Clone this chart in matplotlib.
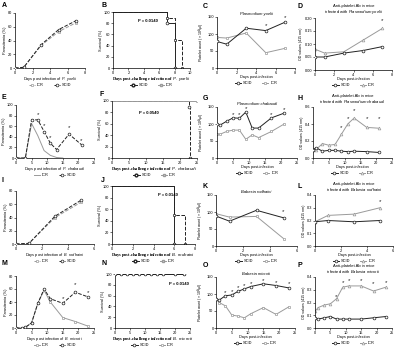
import numpy as np
import matplotlib
matplotlib.use("Agg")
import matplotlib.pyplot as plt

plt.rcParams.update({'font.family': ['Liberation Sans', 'DejaVu Sans'],
                     'font.size': 3, 'axes.linewidth': 0.5,
                     'mathtext.fontset': 'custom',
                     'mathtext.rm': 'Liberation Sans',
                     'mathtext.it': 'Liberation Sans:italic',
                     'mathtext.bf': 'Liberation Sans:bold',
                     'xtick.major.width': 0.4, 'ytick.major.width': 0.4,
                     'xtick.major.size': 1.2, 'ytick.major.size': 1.2,
                     'xtick.major.pad': 0.6, 'ytick.major.pad': 0.6})

BLK = '#222222'
GRY = '#9a9a9a'

# ---------------- data ----------------
# A  P. yoelii parasitemia
a_days = [0, 1, 3, 5, 7]
a_icr = [0, 1, 33, 53, 66]
a_scid = [0, 1, 34, 56, 69]
# B  survival P. yoelii
b_scid_t = [0, 7, 8]
b_scid_s = [100, 80, 0]
b_icr_t = [0, 7, 8, 9]
b_icr_s = [100, 90, 50, 0]
# C  platelets P. yoelii
c_days = [0, 1, 3, 5, 7]
c_scid = [78, 70, 117, 110, 135]
c_icr = [90, 88, 103, 45, 58]
c_star_x = [5, 7]
c_star_y = [126, 147]
# D  anti-platelet Ab P. yoelii
d_days = [0, 1, 3, 5, 7]
d_scid = [0.05, 0.05, 0.065, 0.075, 0.09]
d_icr = [0.08, 0.065, 0.07, 0.115, 0.16]
d_star_x = [7]
d_star_y = [0.19]
# E  P. chabaudi parasitemia
e_icr_days = [0, 3, 5, 7, 9, 11, 13, 15]
e_icr = [0, 0, 65, 42, 14, 5, 1, 0]
e_scid_days = [0, 3, 5, 7, 9, 11, 13, 17, 21]
e_scid = [0, 0, 72, 72, 50, 28, 16, 45, 25]
e_star_x = [7, 9, 11, 17, 21]
e_star_y = [82, 62, 38, 57, 33]
# F  survival P. chabaudi
f_scid_t = [0, 22.5, 23]
f_scid_s = [100, 90, 0]
f_icr_t = [0, 25]
f_icr_s = [100, 100]
# G  platelets P. chabaudi
g_days = [0, 1, 3, 5, 7, 9, 11, 13, 17, 21]
g_scid = [100, 97, 108, 118, 117, 135, 88, 88, 118, 132]
g_icr = [70, 70, 78, 82, 82, 55, 68, 60, 78, 100]
g_star_x = [5, 7, 9, 17, 21]
g_star_y = [128, 128, 145, 128, 142]
# H  anti-platelet Ab P. chabaudi
h_days = [0, 1, 3, 5, 7, 9, 11, 13, 17, 21]
h_scid = [0.10, 0.12, 0.08, 0.09, 0.09, 0.08, 0.075, 0.08, 0.075, 0.065]
h_icr = [0.10, 0.10, 0.17, 0.15, 0.16, 0.28, 0.40, 0.47, 0.36, 0.35]
h_star_x = [9, 11, 13, 17, 21]
h_star_y = [0.36, 0.46, 0.56, 0.46, 0.46]
# I  B. rodhaini parasitemia
i_days = [0, 1, 3, 5]
i_icr = [0, 1, 40, 63]
i_scid = [0, 1, 42, 66]
# J  survival B. rodhaini
j_scid_t = [0, 6]
j_scid_s = [100, 0]
j_icr_t = [0, 6, 7]
j_icr_s = [100, 50, 0]
# K  platelets B. rodhaini
k_days = [0, 1, 3, 5]
k_scid = [88, 73, 105, 83]
k_icr = [95, 85, 87, 22]
k_star_x = [5]
k_star_y = [100]
# L  anti-platelet Ab B. rodhaini
l_days = [0, 1, 3, 5]
l_scid = [0.19, 0.20, 0.19, 0.20]
l_icr = [0.19, 0.24, 0.25, 0.30]
l_star_x = [5]
l_star_y = [0.35]
# M  B. microti parasitemia
m_days = [0, 2, 3, 5, 7, 9, 11, 15, 19, 23]
m_icr = [0, 0, 1, 8, 38, 58, 40, 16, 10, 3]
m_scid = [0, 0, 1, 8, 38, 60, 45, 38, 55, 48]
m_star_x = [15, 19, 23]
m_star_y = [45, 67, 54]
# N  survival B. microti
n_days = [0, 2, 4, 6, 8, 10, 12, 14, 16, 20, 23]
n_scid = [100] * 11
n_icr = [100] * 11
# O  platelets B. microti
o_days = [0, 1, 3, 5, 7, 9, 11, 15, 19, 23]
o_scid = [85, 82, 95, 97, 108, 115, 122, 130, 125, 118]
o_icr = [85, 75, 65, 38, 35, 30, 42, 60, 40, 62]
o_star_x = [3, 5, 7, 9, 11, 15, 19, 23]
o_star_y = [105, 107, 118, 125, 132, 140, 135, 130]
# P  anti-platelet Ab B. microti
p_days = [0, 1, 3, 5, 7, 9, 11, 15, 19, 23]
p_scid = [0.08, 0.07, 0.08, 0.09, 0.07, 0.07, 0.07, 0.07, 0.08, 0.09]
p_icr = [0.13, 0.16, 0.18, 0.19, 0.23, 0.32, 0.33, 0.33, 0.29, 0.32]
p_star_x = [7, 9, 11, 15, 19, 23]
p_star_y = [0.25, 0.36, 0.37, 0.37, 0.35, 0.36]

fig = plt.figure(figsize=(4, 3.5), dpi=100)


def add_ax(x1, y1, x2, y2):
    ax = fig.add_axes([x1 / 400, 1 - y2 / 350, (x2 - x1) / 400, (y2 - y1) / 350])
    ax.spines['top'].set_visible(False)
    ax.spines['right'].set_visible(False)
    ax.tick_params(labelsize=2.8)
    ax.h_px = y2 - y1
    return ax


def letter(x, y, s):
    fig.text(x / 400, 1 - y / 350, s, fontsize=5, weight='bold', va='top', ha='left')


def scid(ax, x, y, ls='-', label='SCID'):
    ax.plot(x, y, ls=ls, color=BLK, lw=0.7, marker='o', ms=2, mfc='white',
            mec=BLK, mew=0.5, label=label, zorder=3)


def icr(ax, x, y, ls='-', label='ICR', marker='s'):
    ax.plot(x, y, ls=ls, color=GRY, lw=0.7, marker=marker, ms=2, mfc='white',
            mec=GRY, mew=0.5, label=label, zorder=2)


def stars(ax, xs, ys):
    for x, y in zip(xs, ys):
        ax.text(x, y, '*', ha='center', va='center', fontsize=4.5, color=BLK)


def legend(ax, order, off=13.5):
    h, l = ax.get_legend_handles_labels()
    d = dict(zip(l, h))
    ax.legend([d[k] for k in order], order, loc='upper center',
              bbox_to_anchor=(0.5, -off / ax.h_px), ncol=2, frameon=False, fontsize=2.8,
              handlelength=1.6, columnspacing=2.5, handletextpad=0.5,
              borderpad=0.0, borderaxespad=0.0)


def para(ax, xmax, xticks, ymax, yticks, label):
    ax.set_xlim(0, xmax)
    ax.set_xticks(xticks)
    ax.set_ylim(0, ymax)
    ax.set_yticks(yticks)
    ax.set_ylabel('Parasitemia (%)', fontsize=2.8, labelpad=1)
    ax.set_xlabel(label, fontsize=2.8, labelpad=0.6)


def surv(ax, xmax, xticks, label, ptxt, px, py):
    ax.set_xlim(0, xmax)
    ax.set_xticks(xticks)
    ax.set_ylim(0, 100)
    ax.set_yticks([0, 20, 40, 60, 80, 100])
    ax.set_ylabel('Survival (%)', fontsize=2.8, labelpad=1)
    ax.set_xlabel(label, fontsize=3.2, family='Liberation Serif', weight='bold', labelpad=0.6)
    ax.text(px, py, ptxt, transform=ax.transAxes, fontsize=3, weight='bold')


def plat(ax, xmax, xticks, title):
    ax.set_xlim(0, xmax)
    ax.set_xticks(xticks)
    ax.set_ylim(0, 150)
    ax.set_yticks([0, 50, 100, 150])
    ax.set_ylabel(r'Platelet count ($\times$ 10$^4$/$\mu$l)', fontsize=2.6, labelpad=1)
    ax.set_xlabel('Days post-infection', fontsize=2.8, labelpad=0.6)
    ax.set_title(title, fontsize=3, style='italic', pad=1.5)


def od(ax, xmax, xticks, ymax, yticks, fmt, title):
    ax.set_xlim(0, xmax)
    ax.set_xticks(xticks)
    ax.set_ylim(0, ymax)
    ax.set_yticks(yticks)
    ax.set_yticklabels([fmt % v for v in yticks])
    ax.set_ylabel('OD values (415 nm)', fontsize=2.6, labelpad=1)
    ax.set_xlabel('Days post-infection', fontsize=2.8, labelpad=0.6)
    ax.text(0.5, 1.03, 'Anti-platelet Ab in mice\ninfected with ' + title,
            transform=ax.transAxes, ha='center', va='bottom', fontsize=3,
            linespacing=1.15)


def step(ax, t, s, color, ls, marker):
    ax.step(t, s, where='post', color=color, ls=ls, lw=0.7)
    ax.plot(t[1:], s[1:], ls='none', marker=marker, ms=2, mfc='white', mec=color, mew=0.5)


def surv_legend(ax):
    ax.plot([], [], color=BLK, marker='o', ms=2, mfc='white', lw=0.7, label='SCID')
    ax.plot([], [], color=GRY, marker='s', ms=2, mfc='white', lw=0.7, label='ICR')


# ---------- row 1 ----------
ax = add_ax(15, 13, 85, 68); letter(2, 2, 'A')
icr(ax, a_days, a_icr, ls='--')
scid(ax, a_days, a_scid, ls='--')
para(ax, 8, [0, 2, 4, 6, 8], 80, [0, 20, 40, 60, 80], 'Days post infection of $\\it{P.\\ yoelii}$')
legend(ax, ['ICR', 'SCID'], off=15.5)

ax = add_ax(113, 12, 190, 68); letter(101, 2, 'B')
step(ax, b_scid_t, b_scid_s, BLK, '-', 'o')
step(ax, b_icr_t, b_icr_s, BLK, '--', 's')
surv_legend(ax)
surv(ax, 10, [0, 2, 4, 6, 8, 10], 'Days post-challenge infection of $\\bf{\\it{P.\\ yoelii}}$',
     'P = 0.0140', 0.32, 0.82)
legend(ax, ['SCID', 'ICR'], off=15.5)

ax = add_ax(217, 17, 295, 68); letter(203, 3, 'C')
scid(ax, c_days, c_scid)
icr(ax, c_days, c_icr)
stars(ax, c_star_x, c_star_y)
plat(ax, 8, [0, 2, 4, 6, 8], 'Plasmodium yoelii')
legend(ax, ['SCID', 'ICR'])

ax = add_ax(315, 18, 392, 70); letter(298, 3, 'D')
scid(ax, d_days, d_scid)
icr(ax, d_days, d_icr, marker='^')
stars(ax, d_star_x, d_star_y)
od(ax, 8, [0, 2, 4, 6, 8], 0.2, [0, 0.05, 0.10, 0.15, 0.20], '%.2f',
   '$\\it{Plasmodium\\ yoelii}$')
legend(ax, ['SCID', 'ICR'])

# ---------- row 2 ----------
ax = add_ax(16, 105, 94, 158); letter(2, 94, 'E')
icr(ax, e_icr_days, e_icr, marker='None')
scid(ax, e_scid_days, e_scid, ls='--')
stars(ax, e_star_x, e_star_y)
para(ax, 25, [0, 5, 10, 15, 20, 25], 100, [0, 20, 40, 60, 80, 100],
     'Days post infection of $\\it{P.\\ chabaudi}$')
legend(ax, ['ICR', 'SCID'], off=15.5)

ax = add_ax(112, 101, 197, 158); letter(100, 91, 'F')
step(ax, f_scid_t, f_scid_s, BLK, '--', 'o')
step(ax, f_icr_t, f_icr_s, GRY, '-', 's')
surv_legend(ax)
surv(ax, 25, [0, 5, 10, 15, 20, 25], 'Days post-challenge infection of $\\bf{\\it{P.\\ chabaudi}}$',
     'P = 0.0540', 0.32, 0.78)
legend(ax, ['SCID', 'ICR'], off=15.5)

ax = add_ax(217, 107, 297, 158); letter(203, 95, 'G')
scid(ax, g_days, g_scid)
icr(ax, g_days, g_icr)
stars(ax, g_star_x, g_star_y)
plat(ax, 25, [0, 5, 10, 15, 20, 25], 'Plasmodium chabaudi')
legend(ax, ['SCID', 'ICR'])

ax = add_ax(313, 107, 392, 158); letter(298, 95, 'H')
scid(ax, h_days, h_scid)
icr(ax, h_days, h_icr, marker='^')
stars(ax, h_star_x, h_star_y)
od(ax, 25, [0, 5, 10, 15, 20, 25], 0.6, [0, 0.2, 0.4, 0.6], '%.1f',
   '$\\it{Plasmodium\\ chabaudi}$')
legend(ax, ['SCID', 'ICR'])

# ---------- row 3 ----------
ax = add_ax(16, 191, 94, 244); letter(2, 177, 'I')
icr(ax, i_days, i_icr, ls='--')
scid(ax, i_days, i_scid, ls='--')
para(ax, 6, [0, 2, 4, 6], 80, [0, 20, 40, 60, 80], 'Days post infection of $\\it{B.\\ rodhaini}$')
legend(ax, ['ICR', 'SCID'], off=15.5)

ax = add_ax(112, 186, 195, 244); letter(101, 177, 'J')
step(ax, j_scid_t, j_scid_s, BLK, '-', 'o')
step(ax, j_icr_t, j_icr_s, BLK, '--', 's')
surv_legend(ax)
surv(ax, 8, [0, 2, 4, 6, 8], 'Days post-challenge infection of $\\bf{\\it{B.\\ rodhaini}}$',
     'P = 0.0140', 0.55, 0.82)
legend(ax, ['SCID', 'ICR'], off=15.5)

ax = add_ax(216, 195, 297, 246); letter(203, 183, 'K')
scid(ax, k_days, k_scid)
icr(ax, k_days, k_icr)
stars(ax, k_star_x, k_star_y)
plat(ax, 6, [0, 2, 4, 6], 'Babesia rodhaini')
legend(ax, ['SCID', 'ICR'])

ax = add_ax(315, 195, 393, 246); letter(298, 183, 'L')
scid(ax, l_days, l_scid)
icr(ax, l_days, l_icr, marker='^')
stars(ax, l_star_x, l_star_y)
od(ax, 6, [0, 2, 4, 6], 0.4, [0, 0.1, 0.2, 0.3, 0.4], '%.1f', '$\\it{Babesia\\ rodhaini}$')
legend(ax, ['SCID', 'ICR'])

# ---------- row 4 ----------
ax = add_ax(16, 276, 94, 328); letter(2, 260, 'M')
icr(ax, m_days, m_icr)
scid(ax, m_days, m_scid, ls='--')
stars(ax, m_star_x, m_star_y)
para(ax, 25, [0, 5, 10, 15, 20, 25], 80, [0, 20, 40, 60, 80],
     'Days post infection of $\\it{B.\\ microti}$')
legend(ax, ['ICR', 'SCID'], off=15.5)

ax = add_ax(115, 274, 190, 328); letter(101, 260, 'N')
icr(ax, n_days, n_icr)
scid(ax, n_days, n_scid)
surv(ax, 25, [0, 5, 10, 15, 20, 25], 'Days post-challenge infection of $\\bf{\\it{B.\\ microti}}$',
     'P = 0.0140', 0.72, 0.8)
legend(ax, ['SCID', 'ICR'], off=15.5)

ax = add_ax(216, 277, 295, 328); letter(203, 262, 'O')
scid(ax, o_days, o_scid)
icr(ax, o_days, o_icr)
stars(ax, o_star_x, o_star_y)
plat(ax, 25, [0, 5, 10, 15, 20, 25], 'Babesia microti')
legend(ax, ['SCID', 'ICR'])

ax = add_ax(315, 277, 392, 328); letter(298, 262, 'P')
scid(ax, p_days, p_scid)
icr(ax, p_days, p_icr, marker='^')
stars(ax, p_star_x, p_star_y)
od(ax, 25, [0, 5, 10, 15, 20, 25], 0.4, [0, 0.1, 0.2, 0.3, 0.4], '%.1f',
   '$\\it{Babesia\\ microti}$')
legend(ax, ['SCID', 'ICR'])

fig.savefig('out.png', dpi=100)
